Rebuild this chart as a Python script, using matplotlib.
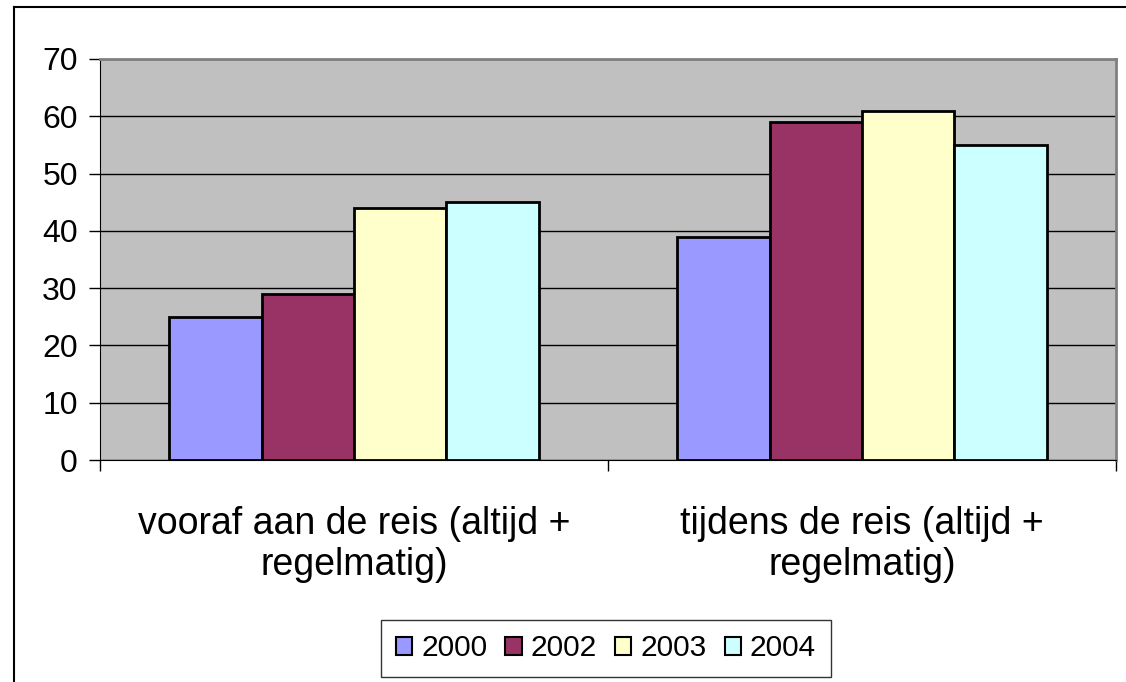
import matplotlib
matplotlib.use("Agg")
import matplotlib.pyplot as plt
import numpy as np
from matplotlib.lines import Line2D
from matplotlib.patches import Patch

plt.rcParams["font.family"] = ["Liberation Sans", "DejaVu Sans"]

categories = ["vooraf aan de reis (altijd +\nregelmatig)",
              "tijdens de reis (altijd +\nregelmatig)"]
years = ["2000", "2002", "2003", "2004"]
values = {
    "2000": [25, 39],
    "2002": [29, 59],
    "2003": [44, 61],
    "2004": [45, 55],
}
colors = ["#9999FF", "#993366", "#FFFFCC", "#CCFFFF"]

W, H = 1126, 682
fig = plt.figure(figsize=(W / 100, H / 100), dpi=100)
ax = fig.add_axes([100 / W, (H - 460) / H, 1016 / W, 401 / H])
ax.set_facecolor("#C0C0C0")

# outer chart frame (only left and top edges visible)
fig.add_artist(Line2D([13.5 / W, 13.5 / W], [0, 1 - 7 / H], color="black", lw=1.5,
                      transform=fig.transFigure))
fig.add_artist(Line2D([13.5 / W, 1], [1 - 7 / H, 1 - 7 / H], color="black", lw=1.5,
                      transform=fig.transFigure))

x = np.arange(len(categories)) + 0.5
bw = 0.182
for k, (yr, c) in enumerate(zip(years, colors)):
    ax.bar(x + (k - 1.5) * bw, values[yr], width=bw, color=c,
           edgecolor="black", linewidth=2, zorder=3)

ax.set_xlim(0, 2)
ax.set_ylim(0, 70)
ax.set_yticks(range(0, 71, 10))
ax.yaxis.grid(True, color="black", linewidth=1)
ax.set_axisbelow(True)
ax.tick_params(axis="y", labelsize=23, length=8, width=1, direction="out", pad=8)

ax.set_xticks([0, 1, 2])
ax.set_xticklabels([])
ax.tick_params(axis="x", length=8, width=1, direction="out")
ax.set_xticks(x, minor=True)
ax.set_xticklabels(categories, minor=True, fontsize=27, linespacing=1.2)
ax.tick_params(axis="x", which="minor", length=0, pad=33)

for side in ["top", "right"]:
    ax.spines[side].set_color("#808080")
    ax.spines[side].set_linewidth(2)
ax.spines["left"].set_color("black")
ax.spines["bottom"].set_color("black")

handles = [Patch(facecolor=c, edgecolor="black", linewidth=1.5) for c in colors]
leg = fig.legend(handles, years, loc="center", bbox_to_anchor=(606 / W, 1 - 648.5 / H),
                 ncol=4, fontsize=21.5, frameon=True, fancybox=False,
                 handlelength=0.55, handleheight=0.55, handletextpad=0.3,
                 columnspacing=0.6, borderpad=0.5, borderaxespad=0)
leg.get_frame().set_edgecolor("black")
leg.get_frame().set_linewidth(1)

fig.savefig("out.png", dpi=100)
